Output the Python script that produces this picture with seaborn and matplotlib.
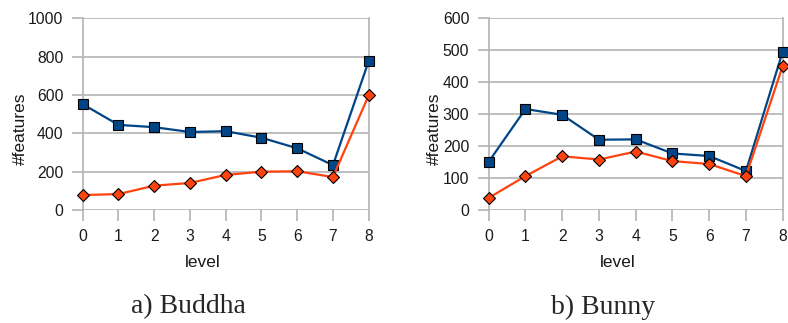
import matplotlib
matplotlib.use("Agg")
import matplotlib.pyplot as plt
import seaborn as sns
import pandas as pd

sns.set_theme(style="white")
plt.rcParams["font.family"] = ["Liberation Sans", "DejaVu Sans"]

levels = [0, 1, 2, 3, 4, 5, 6, 7, 8]

buddha_total = [552, 444, 432, 407, 411, 377, 322, 234, 777]
buddha_kept = [78, 83, 127, 141, 183, 200, 202, 172, 598]

bunny_total = [151, 316, 298, 220, 221, 177, 169, 122, 496]
bunny_kept = [38, 106, 168, 158, 183, 153, 144, 106, 451]

titles = ["a) Buddha", "b) Bunny"]
y_limits = [1000, 600]
y_steps = [200, 100]

BLUE = "#004586"
ORANGE = "#ff420e"
GRID = "#b3b3b3"
TEXT = "#1a1a1a"

fig = plt.figure(figsize=(7.88, 3.23), dpi=100)
axes = [
    fig.add_axes([82.7 / 788, 113 / 323, 286 / 788, 191.7 / 323]),
    fig.add_axes([488.7 / 788, 113 / 323, 294 / 788, 191.7 / 323]),
]

panels = [(buddha_total, buddha_kept), (bunny_total, bunny_kept)]
ylabel_x = [-0.19, -0.159]
xlabel_x = [0.42, 0.44]

for i, (ax, (total, kept), ymax, step) in enumerate(zip(axes, panels, y_limits, y_steps)):
    df = pd.DataFrame({"level": levels, "total": total, "kept": kept})
    sns.lineplot(data=df, x="level", y="total", ax=ax, color=BLUE, lw=1.6,
                 marker="s", markersize=7.6, markeredgecolor="black",
                 markeredgewidth=0.8, zorder=3)
    sns.lineplot(data=df, x="level", y="kept", ax=ax, color=ORANGE, lw=1.6,
                 marker="D", markersize=6.1, markeredgecolor="black",
                 markeredgewidth=0.8, zorder=4)
    ax.set_xlim(0, 8)
    ax.set_ylim(0, ymax)
    ax.set_xticks(levels)
    ax.set_yticks(range(0, ymax + 1, step))
    ax.yaxis.grid(True, color=GRID, lw=1.2)
    ax.set_axisbelow(True)
    for side in ("left", "right"):
        ax.spines[side].set_color(GRID)
        ax.spines[side].set_linewidth(1.2)
    ax.spines["top"].set_visible(False)
    ax.spines["bottom"].set_visible(False)
    ax.tick_params(axis="both", which="both", direction="out", length=8,
                   width=1.2, color=GRID, labelsize=11.3, labelcolor=TEXT)
    ax.tick_params(axis="y", pad=6, left=True)
    ax.tick_params(axis="x", pad=6, bottom=True)
    ax.set_xlabel("level", fontsize=12.5, color=TEXT)
    ax.set_ylabel("#features", fontsize=12.5, color=TEXT)
    ax.xaxis.set_label_coords(xlabel_x[i], -0.235)
    ax.yaxis.set_label_coords(ylabel_x[i], 0.425)
    ax.set_facecolor("white")
    for ln in ax.lines:
        ln.set_clip_on(False)

for x_px, title in zip([188, 603], titles):
    fig.text(x_px / 788, 1 - 313.5 / 323, title, ha="center", va="baseline",
             fontsize=20, family=["Liberation Serif", "DejaVu Serif"])

fig.savefig("out.png", dpi=100, facecolor="white")
